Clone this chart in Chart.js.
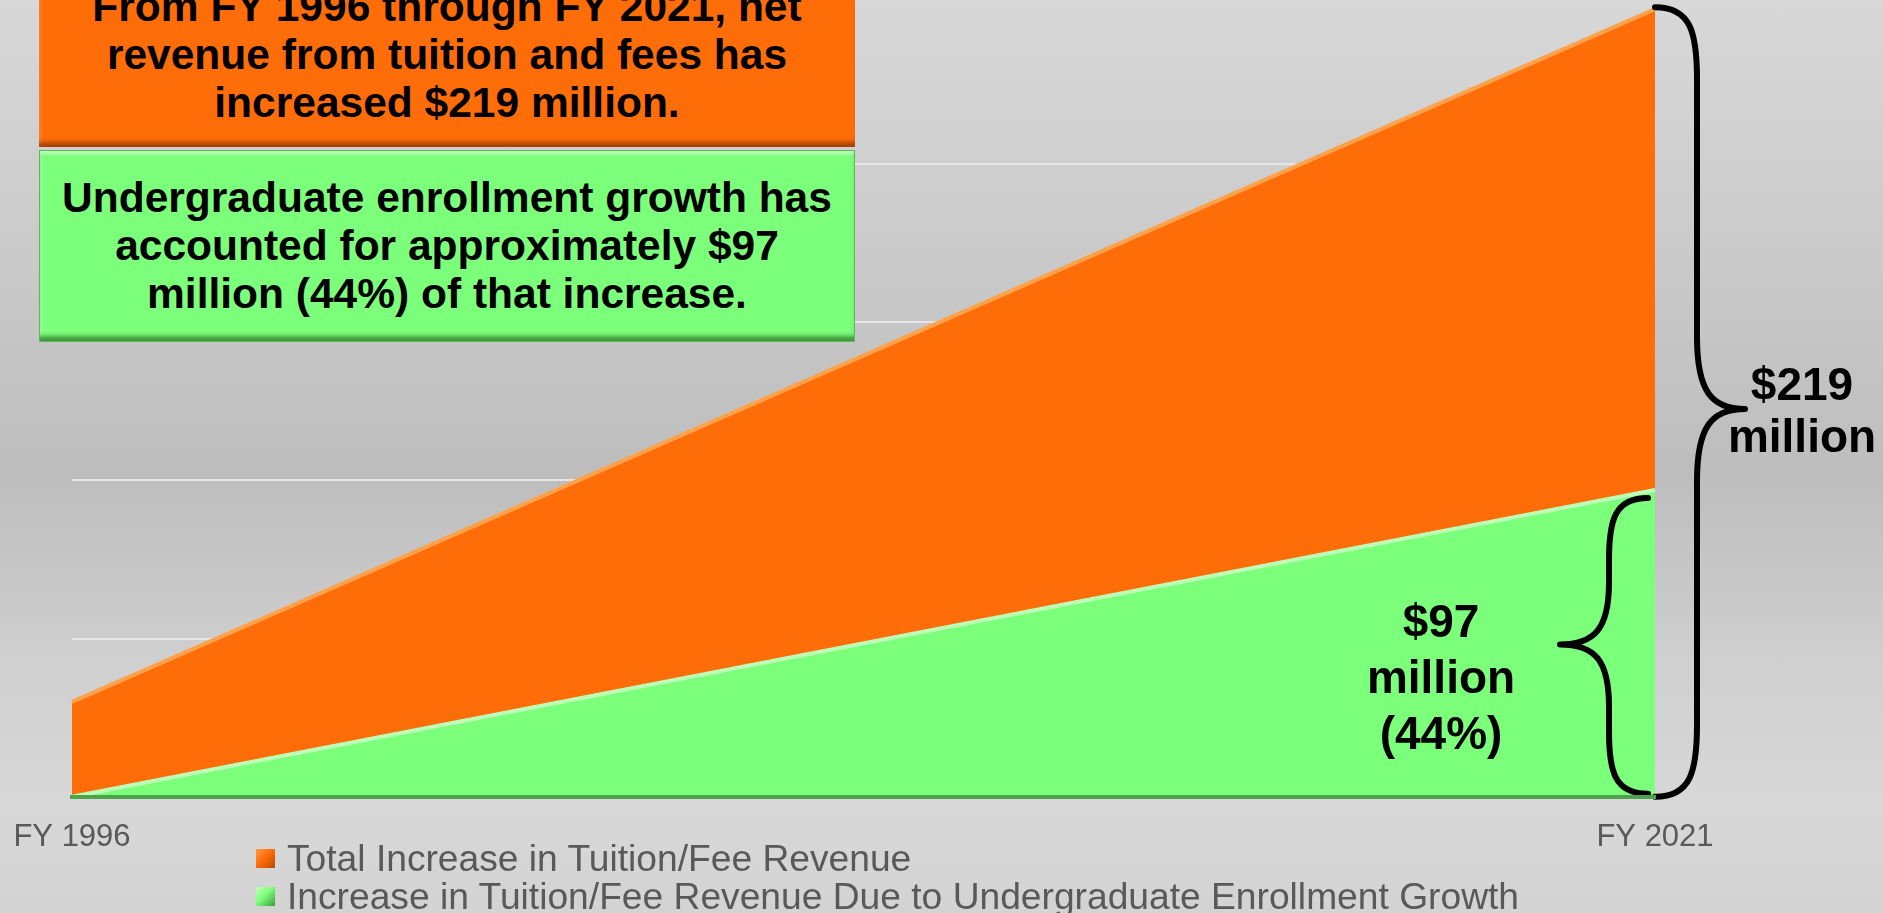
<!DOCTYPE html>
<html>
<head>
<meta charset="utf-8">
<title>Tuition/Fee Revenue Increase</title>
<script src="https://cdn.jsdelivr.net/npm/chart.js@4.4.1/dist/chart.umd.min.js"></script>
<style>
  html, body {
    margin: 0;
    padding: 0;
    overflow: hidden;
  }
  body {
    width: 1883px;
    height: 913px;
    background: linear-gradient(to bottom, #d8d8d8 0%, #c9c9c9 30%, #bdbdbd 52%, #cfcfcf 72%, #d8d8d8 88%, #d3d3d3 100%);
    font-family: "Liberation Sans", Arial, sans-serif;
  }
  #wrap {
    position: relative;
    width: 1883px;
    height: 913px;
  }
  #chart {
    position: absolute;
    left: 0;
    top: 0;
  }
  .note {
    position: absolute;
    left: 39px;
    width: 816px;
    box-sizing: border-box;
    text-align: center;
    font-weight: bold;
    font-size: 42.5px;
    line-height: 48px;
    color: #000;
  }
  .note.orange {
    top: -41px;
    height: 188px;
    padding-top: 24px;
    background: #ff6d09;
    box-shadow: inset 0 -7px 4px -2px rgba(140, 55, 0, 0.75), inset 0 5px 3px -2px rgba(255, 170, 100, 0.8), inset 4px 0 3px -2px rgba(255, 160, 90, 0.6);
  }
  .note.green {
    top: 150px;
    height: 192px;
    padding-top: 23px;
    background: #7cff7a;
    border: 1px solid #5cb85a;
    box-shadow: inset 0 -7px 4px -2px rgba(40, 120, 40, 0.75), inset 0 5px 3px -2px rgba(200, 255, 200, 0.9), inset 4px 0 3px -2px rgba(180, 255, 180, 0.7);
  }
  #legend {
    position: absolute;
    left: 256px;
    top: 839px;
    font-size: 37.2px;
    color: #595959;
  }
  #legend .row {
    display: flex;
    align-items: center;
    height: 38px;
    white-space: nowrap;
  }
  #legend .box {
    width: 19px;
    height: 19px;
    margin-right: 12px;
    box-sizing: border-box;
  }
</style>
</head>
<body>
<div id="wrap">
  <canvas id="chart" width="1883" height="913"></canvas>
  <div class="note orange">From FY 1996 through FY 2021, net<br>revenue from tuition and fees has<br>increased $219 million.</div>
  <div class="note green">Undergraduate enrollment growth has<br>accounted for approximately $97<br>million (44%) of that increase.</div>
  <div id="legend"></div>
</div>
<script>
// data
const years = ["FY 1996", "FY 2021"];
const totalIncrease = [30, 249];
const enrollmentIncrease = [0, 97];
const seriesNames = [
  "Total Increase in Tuition/Fee Revenue",
  "Increase in Tuition/Fee Revenue Due to Undergraduate Enrollment Growth",
];
const yMin = 0;
const yMax = 250;
const yStep = 50;
const totalLabel = ["$219", "million"];
const enrollmentLabel = ["$97", "million", "(44%)"];

const orange = "#ff6d09";
const green = "#7cff7a";

// curly brace, dir = 1 points right, dir = -1 points left
function drawBrace(ctx, x0, yTop, yBot, dir, arm, tip, r, ym) {
  const xa = x0 + dir * arm;
  const xt = x0 + dir * tip;
  const k = dir * (tip - arm) * 0.7;
  ctx.beginPath();
  ctx.moveTo(x0, yTop);
  ctx.bezierCurveTo(x0 + dir * arm * 0.85, yTop, xa, yTop + r * 0.35, xa, yTop + r);
  ctx.lineTo(xa, ym - r);
  ctx.bezierCurveTo(xa, ym - r * 0.25, xt - k, ym, xt, ym);
  ctx.bezierCurveTo(xt - k, ym, xa, ym + r * 0.25, xa, ym + r);
  ctx.lineTo(xa, yBot - r);
  ctx.bezierCurveTo(xa, yBot - r * 0.35, x0 + dir * arm * 0.85, yBot, x0, yBot);
  ctx.stroke();
}

const bracePlugin = {
  id: "braces",
  afterDatasetsDraw(chart) {
    const { ctx, scales } = chart;
    const last = years.length - 1;
    const xe = scales.x.getPixelForValue(last);
    const yBase = scales.y.getPixelForValue(0);
    const yTotal = scales.y.getPixelForValue(totalIncrease[last]);
    const yEnroll = scales.y.getPixelForValue(enrollmentIncrease[last]);

    ctx.save();
    ctx.strokeStyle = "#000";
    ctx.lineWidth = 6;
    ctx.lineCap = "round";
    ctx.lineJoin = "round";
    const tipT = (yTotal + yBase) / 2 + 6;
    const tipE = (yEnroll + yBase) / 2 + 1;
    drawBrace(ctx, xe, yTotal - 2, yBase, 1, 42, 90, 72, tipT);
    drawBrace(ctx, xe - 7, yEnroll + 8, yBase - 3, -1, 39, 88, 62, tipE);

    ctx.fillStyle = "#000";
    ctx.font = 'bold 46px "Liberation Sans", Arial, sans-serif';
    ctx.textAlign = "center";
    ctx.textBaseline = "alphabetic";
    totalLabel.forEach((t, i) => ctx.fillText(t, xe + 147, tipT - 9 + i * 52));
    enrollmentLabel.forEach((t, i) => ctx.fillText(t, xe - 214, tipE - 7 + i * 56));
    ctx.restore();
  },
};

const ctx = document.getElementById("chart").getContext("2d");

new Chart(ctx, {
  type: "line",
  data: {
    labels: years,
    datasets: [
      {
        label: seriesNames[0],
        data: totalIncrease,
        backgroundColor: orange,
        borderColor: "#ffa24c",
        borderWidth: 4,
        fill: "origin",
        pointRadius: 0,
        tension: 0,
        order: 2,
      },
      {
        label: seriesNames[1],
        data: enrollmentIncrease,
        backgroundColor: green,
        borderColor: "#bcffb6",
        borderWidth: 4,
        fill: "origin",
        pointRadius: 0,
        tension: 0,
        order: 1,
      },
    ],
  },
  options: {
    responsive: false,
    devicePixelRatio: 1,
    animation: false,
    layout: {
      autoPadding: false,
      padding: { left: 72, right: 228, top: 6, bottom: 49 },
    },
    plugins: {
      legend: { display: false },
      tooltip: { enabled: false },
    },
    scales: {
      x: {
        offset: false,
        grid: {
          display: true,
          drawOnChartArea: false,
          drawTicks: true,
          tickLength: 14,
          color: "rgba(0,0,0,0)",
        },
        border: { display: true, color: "#4fa34d", width: 4, z: 1 },
        ticks: {
          color: "#595959",
          padding: 8,
          maxRotation: 0,
          autoSkip: false,
          font: { family: '"Liberation Sans", Arial, sans-serif', size: 31 },
        },
      },
      y: {
        min: yMin,
        max: yMax,
        ticks: { display: false, stepSize: yStep },
        grid: {
          color: (c) => (c.tick && c.tick.value === yMax ? "rgba(0,0,0,0)" : "#e6e6e6"),
          lineWidth: 2,
          drawTicks: false,
        },
        border: { display: false },
      },
    },
  },
  plugins: [bracePlugin],
});

// legend stacked at the bottom left
const legendBoxes = [
  "linear-gradient(135deg, #ff9a4a 0%, #ff6d09 45%, #b84a00 100%)",
  "linear-gradient(135deg, #c4ffc0 0%, #7cff7a 45%, #3f9a3d 100%)",
];
const legendEl = document.getElementById("legend");
seriesNames.forEach((name, i) => {
  const row = document.createElement("div");
  row.className = "row";
  const box = document.createElement("span");
  box.className = "box";
  box.style.background = legendBoxes[i];
  const txt = document.createElement("span");
  txt.textContent = name;
  row.appendChild(box);
  row.appendChild(txt);
  legendEl.appendChild(row);
});
</script>
</body>
</html>
